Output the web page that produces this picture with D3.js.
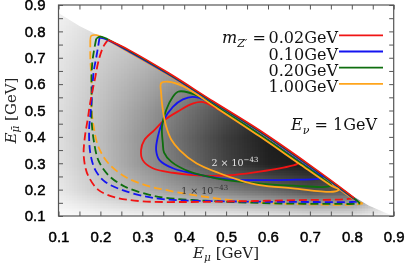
<!DOCTYPE html>
<html><head><meta charset="utf-8">
<script src="https://cdn.jsdelivr.net/npm/d3@7"></script>
<style>
html,body{margin:0;padding:0;background:#fff;}
#wrap{position:relative;width:407px;height:270px;overflow:hidden;}
canvas,svg{position:absolute;left:0;top:0;}
</style></head><body>
<div id="wrap"><canvas id="bg" width="407" height="270"></canvas><svg id="chart" width="407" height="270"></svg></div>
<script>
// ---------- data ----------
const xTicks = [0.1,0.2,0.3,0.4,0.5,0.6,0.7,0.8,0.9];
const yTicks = [0.1,0.2,0.3,0.4,0.5,0.6,0.7,0.8,0.9];
const minorTicks = [0.15,0.25,0.35,0.45,0.55,0.65,0.75,0.85];
const tickLabels = ["0.1","0.2","0.3","0.4","0.5","0.6","0.7","0.8","0.9"];

// background event density (grey level, 255 = white), rows from E=0.9 down to 0.1, columns E_mu 0.1..0.9
const gridX = [0.1,0.2,0.3,0.4,0.5,0.6,0.7,0.8,0.9];
const gridY = [0.9,0.8,0.7,0.6,0.5,0.4,0.3,0.2,0.1];
const density = [
  [244,230,220,205,185,155,125,125,220],
  [236,216,200,184,162,128, 98,110,220],
  [230,206,186,162,134, 95, 66, 90,220],
  [226,198,170,140,105, 68, 42, 78,220],
  [223,192,156,116, 78, 42, 26, 68,220],
  [222,188,148,104, 60, 30, 20, 58,220],
  [224,190,150,110, 66, 34, 26, 54,220],
  [232,202,176,152,128,105, 80, 86,225],
  [252,248,244,242,240,236,230,232,250]
];
// sharp kinematic edge of the shaded region
const regionEdge = [[0.1,0.87],[0.15,0.82],[0.198,0.782],[0.269,0.727],[0.363,0.640],[0.47,0.532],[0.58,0.423],[0.70,0.291],[0.80,0.178],[0.84,0.14],[0.88,0.112],[0.9,0.1],[0.1,0.1]];

const massLabels = ["0.02GeV","0.10GeV","0.20GeV","1.00GeV"];
const colors = ["#f01414","#1414f0","#0e6e0e","#ffa51c"];

// 1e-43 contours: dashed lower/left branch
const dashRed = [[0.218,0.768],[0.207,0.742],[0.195,0.685],[0.188,0.628],[0.176,0.533],[0.170,0.47],[0.163,0.40],[0.160,0.339],[0.164,0.285],[0.172,0.249],[0.195,0.199],[0.235,0.171],[0.298,0.156],[0.40,0.153],[0.50,0.155],[0.60,0.158],[0.70,0.161],[0.78,0.163],[0.806,0.168]];
const dashBlue = [[0.198,0.776],[0.190,0.70],[0.184,0.648],[0.180,0.56],[0.176,0.483],[0.173,0.426],[0.176,0.338],[0.188,0.274],[0.211,0.23],[0.251,0.199],[0.307,0.174],[0.355,0.163],[0.45,0.157],[0.60,0.154],[0.72,0.153],[0.80,0.153],[0.815,0.155]];
const dashGreen = [[0.190,0.772],[0.182,0.70],[0.179,0.638],[0.179,0.55],[0.179,0.464],[0.184,0.388],[0.195,0.312],[0.219,0.255],[0.259,0.211],[0.315,0.181],[0.355,0.169],[0.45,0.158],[0.55,0.151],[0.65,0.147],[0.75,0.146],[0.81,0.146],[0.82,0.148]];
const dashOrange = [[0.176,0.770],[0.176,0.70],[0.179,0.60],[0.179,0.502],[0.184,0.438],[0.195,0.363],[0.219,0.30],[0.259,0.249],[0.307,0.217],[0.355,0.199],[0.42,0.180],[0.50,0.162],[0.60,0.149],[0.70,0.144],[0.80,0.143],[0.826,0.147]];
// 1e-43 contours: upper branch along the kinematic edge
const topRed = [[0.218,0.768],[0.24,0.752],[0.269,0.729],[0.363,0.642],[0.47,0.534],[0.58,0.425],[0.70,0.293],[0.79,0.188],[0.806,0.168]];
const topBlue = [[0.198,0.776],[0.21,0.772],[0.269,0.723],[0.363,0.636],[0.47,0.528],[0.58,0.419],[0.70,0.287],[0.80,0.171],[0.815,0.155]];
const topGreen = [[0.190,0.772],[0.20,0.780],[0.23,0.760],[0.269,0.726],[0.363,0.639],[0.47,0.531],[0.58,0.422],[0.70,0.290],[0.80,0.173],[0.82,0.148]];
const topOrange = [[0.176,0.770],[0.178,0.783],[0.19,0.786],[0.205,0.777],[0.269,0.720],[0.363,0.633],[0.47,0.525],[0.58,0.416],[0.70,0.284],[0.80,0.168],[0.826,0.147]];

// 2e-43 contours (closed loops)
const solidRed = [[0.297,0.35],[0.305,0.388],[0.329,0.426],[0.353,0.464],[0.389,0.50],[0.42,0.526],[0.445,0.532],[0.50,0.486],[0.58,0.405],[0.64,0.338],[0.671,0.300],[0.655,0.290],[0.58,0.268],[0.52,0.256],[0.468,0.252],[0.42,0.255],[0.373,0.264],[0.325,0.281],[0.301,0.312]];
const solidBlue = [[0.333,0.35],[0.337,0.40],[0.349,0.458],[0.373,0.514],[0.397,0.542],[0.42,0.552],[0.45,0.54],[0.50,0.490],[0.58,0.409],[0.65,0.333],[0.72,0.258],[0.731,0.248],[0.722,0.242],[0.65,0.237],[0.58,0.236],[0.532,0.236],[0.484,0.243],[0.42,0.262],[0.373,0.281],[0.341,0.312]];
const solidGreen = [[0.349,0.376],[0.347,0.439],[0.357,0.502],[0.373,0.552],[0.385,0.571],[0.40,0.572],[0.436,0.553],[0.50,0.491],[0.58,0.409],[0.66,0.321],[0.74,0.232],[0.751,0.218],[0.742,0.211],[0.66,0.215],[0.596,0.221],[0.532,0.230],[0.476,0.243],[0.413,0.268],[0.369,0.306],[0.352,0.34]];
const solidOrange = [[0.345,0.604],[0.362,0.609],[0.396,0.593],[0.48,0.507],[0.58,0.402],[0.68,0.292],[0.75,0.216],[0.769,0.200],[0.755,0.192],[0.659,0.205],[0.58,0.217],[0.532,0.236],[0.484,0.262],[0.429,0.30],[0.389,0.35],[0.369,0.39],[0.357,0.439],[0.349,0.502],[0.345,0.565]];

// ---------- scales ----------
const x = d3.scaleLinear().domain([0.1,0.9]).range([58.5,393.7]);
const y = d3.scaleLinear().domain([0.1,0.9]).range([216,5]);

// ---------- background density ----------
(function(){
  const cv = document.getElementById('bg');
  const ctx = cv.getContext('2d');
  const nx = gridX.length, ny = gridY.length;
  const off = document.createElement('canvas');
  off.width = nx; off.height = ny;
  const octx = off.getContext('2d');
  const img = octx.createImageData(nx, ny);
  density.forEach((row,j)=>row.forEach((v,i)=>{
    const k = 4*(j*nx+i);
    img.data[k]=v; img.data[k+1]=v; img.data[k+2]=v; img.data[k+3]=255;
  }));
  octx.putImageData(img,0,0);
  ctx.save();
  ctx.beginPath();
  ctx.rect(x(0.1), y(0.9), x(0.9)-x(0.1), y(0.1)-y(0.9));
  ctx.clip();
  ctx.beginPath();
  regionEdge.forEach((p,i)=>{ i? ctx.lineTo(x(p[0]),y(p[1])) : ctx.moveTo(x(p[0]),y(p[1])); });
  ctx.closePath();
  ctx.clip();
  ctx.imageSmoothingEnabled = true;
  const dx = (gridX[1]-gridX[0])/2, dy = (gridY[0]-gridY[1])/2;
  ctx.drawImage(off, x(gridX[0]-dx), y(gridY[0]+dy), x(gridX[nx-1]+dx)-x(gridX[0]-dx), y(gridY[ny-1]-dy)-y(gridY[0]+dy));
  ctx.restore();
})();

// ---------- svg ----------
const svg = d3.select('#chart');
const open = d3.line().x(d=>x(d[0])).y(d=>y(d[1])).curve(d3.curveCatmullRom.alpha(0.5));
const closed = d3.line().x(d=>x(d[0])).y(d=>y(d[1])).curve(d3.curveCatmullRomClosed.alpha(0.5));

const dashSets = [dashRed, dashBlue, dashGreen, dashOrange];
const topSets = [topRed, topBlue, topGreen, topOrange];
const solidSets = [solidRed, solidBlue, solidGreen, solidOrange];
const gL = svg.append('g');
[3,2,1,0].forEach(i=>{
  gL.append('path').attr('d', open(dashSets[i])).attr('fill','none')
    .attr('stroke', colors[i]).attr('stroke-width',1.8).attr('stroke-dasharray','8,4');
});
[3,1,2,0].forEach(i=>{
  gL.append('path').attr('d', open(topSets[i])).attr('fill','none')
    .attr('stroke', colors[i]).attr('stroke-width',1.6);
});
[0,1,2,3].forEach(i=>{
  gL.append('path').attr('d', closed(solidSets[i])).attr('fill','none')
    .attr('stroke', colors[i]).attr('stroke-width',1.8);
});

// contour labels
const serif = "'DejaVu Serif', serif";
function sciLabel(px, py, mant, color){
  const t = svg.append('text').attr('x',px).attr('y',py).attr('font-family',serif)
    .attr('font-size',9.5).attr('fill',color);
  t.append('tspan').text(mant + ' × 10');
  t.append('tspan').attr('dy',-4).attr('font-size',7).text('−43');
}
sciLabel(x(0.465), y(0.29), '2', '#e6e6e6');
sciLabel(x(0.393), y(0.184), '1', '#333');

// axes (inward ticks on all sides)
const tickFont = "'Liberation Sans', Arial, sans-serif";
function styleAxis(g){
  g.select('.domain').remove();
  g.selectAll('.tick line').attr('stroke','#555').attr('stroke-width',1);
  g.selectAll('.tick text').attr('font-family',tickFont).attr('font-size',15).attr('fill','#000')
    .attr('stroke','#000').attr('stroke-width',0.45);
}
const fmt = (d,i)=>tickLabels[i];
svg.append('g').attr('transform',`translate(0,${y(0.1)})`)
  .call(d3.axisBottom(x).tickValues(xTicks).tickSize(-4.5).tickPadding(15.5).tickFormat(fmt)).call(styleAxis);
svg.append('g').attr('transform',`translate(0,${y(0.1)})`)
  .call(d3.axisBottom(x).tickValues(minorTicks).tickSize(-4.5).tickFormat('')).call(styleAxis);
svg.append('g').attr('transform',`translate(${x(0.1)},0)`)
  .call(d3.axisLeft(y).tickValues(yTicks).tickSize(-4.5).tickPadding(13).tickFormat(fmt)).call(styleAxis);
svg.append('g').attr('transform',`translate(${x(0.1)},0)`)
  .call(d3.axisLeft(y).tickValues(minorTicks).tickSize(-4.5).tickFormat('')).call(styleAxis);
svg.append('g').attr('transform',`translate(0,${y(0.9)})`)
  .call(d3.axisTop(x).tickValues(xTicks.concat(minorTicks)).tickSize(-4.5).tickFormat('')).call(styleAxis);
svg.append('g').attr('transform',`translate(${x(0.9)},0)`)
  .call(d3.axisRight(y).tickValues(yTicks.concat(minorTicks)).tickSize(-4.5).tickFormat('')).call(styleAxis);

svg.append('rect').attr('x',x(0.1)).attr('y',y(0.9)).attr('width',x(0.9)-x(0.1)).attr('height',y(0.1)-y(0.9))
  .attr('fill','none').attr('stroke','#555').attr('stroke-width',1.2);

// axis titles
const xt = svg.append('text').attr('x',(x(0.1)+x(0.9))/2).attr('y',258).attr('text-anchor','middle')
  .attr('font-family',serif).attr('font-size',15).attr('fill','#222');
xt.append('tspan').attr('font-style','italic').text('E');
xt.append('tspan').attr('font-style','italic').attr('font-size',10.5).attr('dy',3).text('μ');
xt.append('tspan').attr('dy',-3).text(' [GeV]');

const yt = svg.append('text').attr('transform',`translate(16,${(y(0.1)+y(0.9))/2}) rotate(-90)`).attr('text-anchor','middle')
  .attr('font-family',serif).attr('font-size',15).attr('fill','#222');
yt.append('tspan').attr('font-style','italic').text('E');
yt.append('tspan').attr('font-style','italic').attr('font-size',10.5).attr('dy',3).text('μ\u0304');
yt.append('tspan').attr('dy',-3).text(' [GeV]');

// legend
const lg = svg.append('g');
const mz = lg.append('text').attr('x',222).attr('y',43.3).attr('font-family',serif).attr('font-size',16).attr('fill','#111');
mz.append('tspan').attr('font-style','italic').text('m');
mz.append('tspan').attr('font-style','italic').attr('font-size',11).attr('dy',3.5).text('Z′');
mz.append('tspan').attr('dy',-3.5).text(' =');
massLabels.forEach((lab,i)=>{
  const by = 43.3 + i*16.2;
  lg.append('text').attr('x',338).attr('y',by).attr('text-anchor','end')
    .attr('font-family',serif).attr('font-size',16).attr('fill','#111').text(lab);
  lg.append('line').attr('x1',339).attr('x2',383).attr('y1',by-8).attr('y2',by-8)
    .attr('stroke',colors[i]).attr('stroke-width',1.8);
});
const en = lg.append('text').attr('x',377).attr('y',130).attr('text-anchor','end')
  .attr('font-family',serif).attr('font-size',16).attr('fill','#111');
en.append('tspan').attr('font-style','italic').text('E');
en.append('tspan').attr('font-style','italic').attr('font-size',11).attr('dy',3.5).text('ν');
en.append('tspan').attr('dy',-3.5).text(' = 1GeV');
</script>
</body></html>
